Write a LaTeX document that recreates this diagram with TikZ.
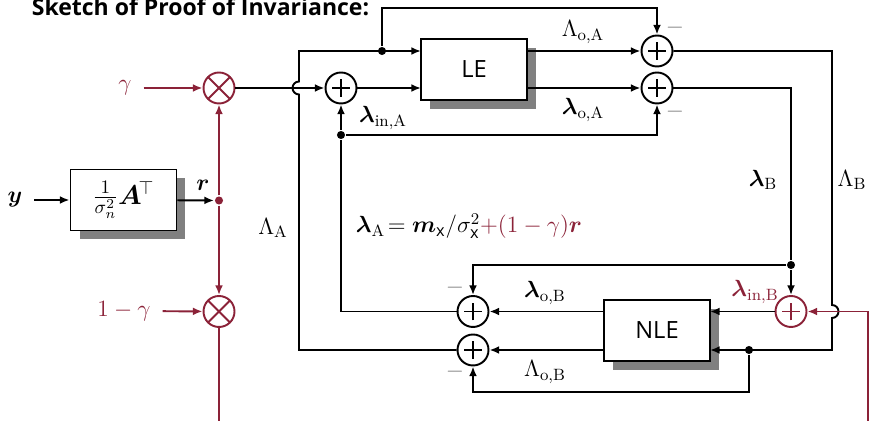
\RequirePackage{fix-cm}
\documentclass[tikz,border=0pt]{standalone}
\usepackage{amsmath,bm}
\usepackage{fontspec}
\setsansfont{Open Sans}
\usetikzlibrary{arrows.meta, shadows}
\definecolor{gainred}{RGB}{139,34,56}

\begin{document}
\begin{tikzpicture}[x=0.02cm, y=-0.02cm, line width=1.1pt,
  every node/.style={font=\fontsize{13.3}{15}\selectfont},
  arr/.style={-{Latex[length=5.5pt, width=4.5pt]}},
  sumnode/.style={circle, draw, minimum size=0.62cm, inner sep=0pt,
    path picture={
      \draw ([xshift=-5pt]path picture bounding box.center) -- ([xshift=5pt]path picture bounding box.center);
      \draw ([yshift=-5pt]path picture bounding box.center) -- ([yshift=5pt]path picture bounding box.center);}},
  mulnode/.style={circle, draw, minimum size=0.62cm, inner sep=0pt,
    path picture={
      \draw (path picture bounding box.north west) -- (path picture bounding box.south east);
      \draw (path picture bounding box.north east) -- (path picture bounding box.south west);}},
  blockbox/.style={draw, fill=white, minimum width=2.12cm, minimum height=1.22cm, inner sep=0pt,
    drop shadow={shadow xshift=0.18cm, shadow yshift=-0.18cm, fill=gray, opacity=1}},
  junc/.style={circle, fill, inner sep=0pt, minimum size=4.6pt},
  minus/.style={gray}]
  \useasboundingbox (0,0) rectangle (872,421);
  \node[anchor=base west, font=\sffamily\bfseries\fontsize{13.1}{16}\selectfont] (title) at (25,16) {Sketch of Proof of Invariance:};

  % blocks
  \node[blockbox, font=\fontsize{15.5}{17}\selectfont] (boxA) at (123.5,200) {$\frac{1}{\sigma_n^2}\bm{A}^{\!\top}$};
  \node[blockbox, font=\sffamily\fontsize{13.5}{16}\selectfont] (LE) at (474,69.5) {LE};
  \node[blockbox, font=\sffamily\fontsize{13.5}{16}\selectfont] (NLE) at (657,330.5) {NLE};
  \coordinate (LEi1) at (421,51);
  \coordinate (LEi2) at (421,88);
  \coordinate (LEo1) at (527,51);
  \coordinate (LEo2) at (527,88);
  \coordinate (NLEi1) at (710,311.5);
  \coordinate (NLEi2) at (710,350);
  \coordinate (NLEo1) at (604,311.5);
  \coordinate (NLEo2) at (604,350);

  % multipliers and adders
  \node[mulnode, color=gainred] (mulG) at (219,88) {};
  \node[mulnode, color=gainred] (mulH) at (219,311.5) {};
  \node[sumnode] (sumA) at (341,88) {};
  \node[sumnode] (sumOA) at (657,51) {};
  \node[sumnode] (sumLA) at (657,88) {};
  \node[sumnode] (sumOB) at (473,311.5) {};
  \node[sumnode] (sumOLB) at (473,350) {};
  \node[sumnode, color=gainred] (sumIB) at (791,311.5) {};

  % branch points
  \node[junc, gainred] (jr) at (219,200.5) {};
  \node[junc] (jt) at (382,51) {};
  \node[junc] (jA) at (341,135) {};
  \node[junc] (jB) at (791,265) {};
  \node[junc] (jN) at (749,350) {};
  \coordinate (xA) at (299,94.5);
  \coordinate (xB) at (832,305);
  \coordinate (rend) at (219,421);
  \coordinate (rin) at (868,421);

  % labels
  \node (ylab) at (15,200) {$\bm{y}$};
  \node (rlab) at (203,185) {$\bm{r}$};
  \node[gainred] (gam) at (125,88) {$\gamma$};
  \node[gainred] (omg) at (124,311) {$1-\gamma$};
  \node (lblOA) at (583,32) {$\Lambda_{\mathrm{o,A}}$};
  \node (lblLOA) at (583,110) {$\bm{\lambda}_{\mathrm{o,A}}$};
  \node (lblInA) at (383,118) {$\bm{\lambda}_{\mathrm{in,A}}$};
  \node (lblA) at (273,228) {$\Lambda_{\mathrm{A}}$};
  \node (lblEq) at (469,226) {$\bm{\lambda}_{\mathrm{A}}\!=\bm{m}_{\mathsf{x}}/\sigma_{\mathsf{x}}^2\textcolor{gainred}{+(1-\gamma)\bm{r}}$};
  \node (lblLB) at (763,180) {$\bm{\lambda}_{\mathrm{B}}$};
  \node (lblB) at (852,180) {$\Lambda_{\mathrm{B}}$};
  \node (lblLOB) at (545,293) {$\bm{\lambda}_{\mathrm{o,B}}$};
  \node (lblOB) at (545,372) {$\Lambda_{\mathrm{o,B}}$};
  \node[gainred] (lblInB) at (755,292) {$\bm{\lambda}_{\mathrm{in,B}}$};
  \node[minus] (m1) at (675,28) {$-$};
  \node[minus] (m2) at (675,112) {$-$};
  \node[minus] (m3) at (455,288) {$-$};
  \node[minus] (m4) at (455,372) {$-$};

  % input side
  \draw[arr, shorten <=3pt] (ylab) -- (boxA);
  \draw[arr] (boxA) -- (jr);
  \draw[arr, gainred] (jr) -- (mulG);
  \draw[arr, gainred] (jr) -- (mulH);
  \draw[arr, gainred, shorten <=3pt] (gam) -- (mulG);
  \draw[arr, gainred, shorten <=3pt] (omg) -- (mulH);
  \draw[gainred] (mulH) -- (rend);
  \draw[arr] (mulG) -- (sumA);

  % LE side
  \draw[arr] (sumOLB) -| (xA) arc[start angle=270, end angle=90, radius=0.13cm] |- (LEi1);
  \draw[arr] (jt) -- ++(0,-43) -| (sumOA);
  \draw[arr] (sumA) -- (LEi2);
  \draw[arr] (LEo1) -- (sumOA);
  \draw[arr] (LEo2) -- (sumLA);
  \draw[arr] (jA) -- (sumA);
  \draw[arr] (jA) -| (sumLA);

  % NLE side
  \draw[arr] (sumOA) -| (xB) arc[start angle=90, end angle=-90, radius=0.13cm] |- (NLEi2);
  \draw (sumLA) -| (jB);
  \draw[arr] (jB) -- (sumIB);
  \draw[arr] (jB) -| (sumOB);
  \draw[arr] (jN) -- ++(0,42) -| (sumOLB);
  \draw[arr, gainred] (rin) |- (sumIB);
  \draw[arr] (sumIB) -- (NLEi1);
  \draw[arr] (NLEo1) -- (sumOB);
  \draw[arr] (NLEo2) -- (sumOLB);
  \draw (sumOB) -| (jA);
\end{tikzpicture}
\end{document}
